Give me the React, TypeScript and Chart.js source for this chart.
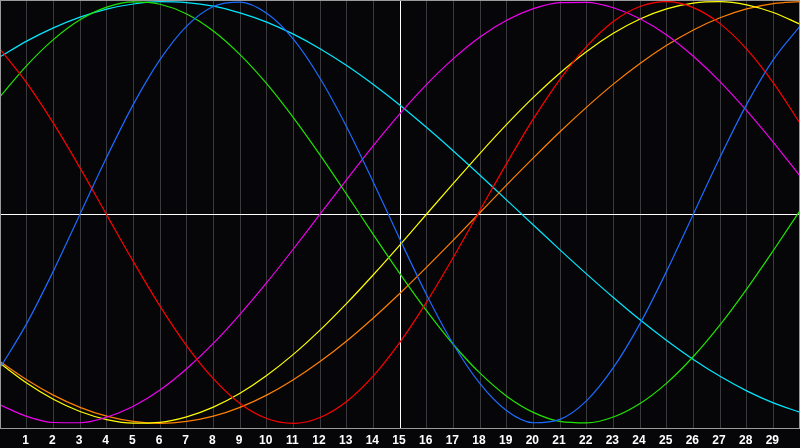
import { useEffect, useRef } from 'react';
import { Chart, registerables } from 'chart.js';

Chart.register(...registerables);

// day positions along the x axis (0 = left edge, 30 = right edge)
const days = [0, 1, 2, 3, 4, 5, 6, 7, 8, 9, 10, 11, 12, 13, 14, 15, 16, 17, 18, 19, 20, 21, 22, 23, 24, 25, 26, 27, 28, 29, 30];
const tickLabels = ['1', '2', '3', '4', '5', '6', '7', '8', '9', '10', '11', '12', '13', '14', '15', '16', '17', '18', '19', '20', '21', '22', '23', '24', '25', '26', '27', '28', '29'];

// cycle values in percent
const blue = [-73.7, -52.7, -27.8, -0.8, 26.2, 51.3, 72.5, 88.4, 97.7, 99.8, 94.5, 82.2, 63.7, 40.6, 14.4, -12.8, -39.1, -62.5, -81.2, -94.0, -99.7, -98.1, -89.2, -73.6, -52.7, -27.8, -0.8, 26.2, 51.3, 72.5, 88.4];
const red = [77.5, 61.5, 42.4, 21.2, -1.1, -23.3, -44.4, -63.2, -78.8, -90.6, -97.7, -100.0, -97.2, -89.6, -77.5, -61.5, -42.4, -21.2, 1.1, 23.3, 44.4, 63.2, 78.8, 90.6, 97.7, 100.0, 97.2, 89.6, 77.5, 61.5, 42.4];
const green = [54.9, 69.7, 82.0, 91.4, 97.4, 99.9, 98.8, 94.2, 86.1, 74.9, 61.1, 45.0, 27.3, 8.6, -10.5, -29.1, -46.7, -62.6, -76.2, -87.1, -94.8, -99.1, -99.8, -97.0, -90.6, -80.9, -68.3, -53.3, -36.3, -18.0, 0.9];
const magenta = [-91.2, -96.7, -99.6, -99.7, -97.1, -91.9, -84.2, -74.1, -62.1, -48.3, -33.3, -17.3, -0.8, 15.6, 31.7, 46.9, 60.8, 73.0, 83.3, 91.2, 96.7, 99.6, 99.7, 97.1, 91.9, 84.2, 74.1, 62.1, 48.3, 33.3, 17.3];
const yellow = [-71.5, -80.9, -88.6, -94.4, -98.2, -99.9, -99.5, -96.9, -92.3, -85.7, -77.3, -67.3, -55.8, -43.1, -29.5, -15.3, -0.7, 13.8, 28.1, 41.8, 54.6, 66.2, 76.4, 85.0, 91.8, 96.6, 99.3, 100.0, 98.5, 94.9, 89.3];
const orange = [-70.7, -79.3, -86.6, -92.4, -96.6, -99.1, -100.0, -99.1, -96.6, -92.4, -86.6, -79.3, -70.7, -60.9, -50.0, -38.3, -25.9, -13.1, 0.0, 13.1, 25.9, 38.3, 50.0, 60.9, 70.7, 79.3, 86.6, 92.4, 96.6, 99.1, 100.0];
const cyan = [73.8, 81.3, 87.6, 92.7, 96.5, 98.9, 100.0, 99.6, 97.9, 94.7, 90.3, 84.6, 77.7, 69.7, 60.7, 50.9, 40.3, 29.2, 17.7, 5.9, -5.9, -17.7, -29.2, -40.3, -50.9, -60.7, -69.7, -77.7, -84.6, -90.3, -94.7];

const series = [
  { name: 'blue', values: blue, color: '#1c6cff' },
  { name: 'red', values: red, color: '#ff0000' },
  { name: 'green', values: green, color: '#20e400' },
  { name: 'magenta', values: magenta, color: '#f000f0' },
  { name: 'yellow', values: yellow, color: '#ffff00' },
  { name: 'orange', values: orange, color: '#ff8000' },
  { name: 'cyan', values: cyan, color: '#00e8ff' },
];

const framePlugin = {
  id: 'frame',
  beforeDraw(chart: Chart) {
    const { ctx, width, height } = chart;
    ctx.save();
    ctx.fillStyle = '#060609';
    ctx.fillRect(0, 0, width, height);
    ctx.restore();
  },
  beforeDatasetsDraw(chart: Chart) {
    const { ctx, chartArea } = chart;
    const mid = Math.round((chartArea.top + chartArea.bottom) / 2) + 0.5;
    ctx.save();
    ctx.strokeStyle = '#ffffff';
    ctx.lineWidth = 1;
    ctx.beginPath();
    ctx.moveTo(chartArea.left, mid);
    ctx.lineTo(chartArea.right, mid);
    ctx.stroke();
    ctx.restore();
  },
  afterDraw(chart: Chart) {
    const { ctx, chartArea } = chart;
    ctx.save();
    ctx.strokeStyle = '#9a9a9a';
    ctx.lineWidth = 1;
    ctx.strokeRect(chartArea.left + 0.5, chartArea.top + 0.5, chartArea.right - chartArea.left - 1, chartArea.bottom - chartArea.top);
    ctx.restore();
  },
};

export default function App() {
  const chartRef = useRef<HTMLCanvasElement>(null);
  const chartInstance = useRef<Chart | null>(null);

  useEffect(() => {
    document.body.style.margin = '0';
    document.body.style.background = '#060609';
    if (!chartRef.current) return;
    if (chartInstance.current) chartInstance.current.destroy();
    const ctx = chartRef.current.getContext('2d');
    if (!ctx) return;

    chartInstance.current = new Chart(ctx, {
      type: 'line',
      data: {
        datasets: series.map((s) => ({
          label: s.name,
          data: days.map((d, i) => ({ x: d, y: s.values[i] })),
          borderColor: s.color,
          backgroundColor: s.color,
          borderWidth: 1.2,
          pointRadius: 0,
          cubicInterpolationMode: 'monotone' as const,
          fill: false,
        })),
      },
      options: {
        responsive: true,
        maintainAspectRatio: false,
        animation: false,
        layout: { padding: 0 },
        plugins: {
          legend: { display: false },
          tooltip: { enabled: false },
        },
        scales: {
          x: {
            type: 'linear',
            min: 0,
            max: 30,
            border: { display: false },
            afterFit: (scale: any) => {
              scale.height = 20;
              scale.paddingLeft = 0;
              scale.paddingRight = 0;
            },
            grid: {
              drawTicks: false,
              lineWidth: 1,
              color: (c: any) => {
                const v = c.tick ? c.tick.value : -1;
                if (v === 15) return '#ffffff';
                if (v <= 0 || v >= 30) return 'rgba(0,0,0,0)';
                return '#3a3a3e';
              },
            },
            ticks: {
              stepSize: 1,
              autoSkip: false,
              maxRotation: 0,
              padding: 5,
              labelOffset: -1,
              color: '#ffffff',
              font: { family: 'Liberation Sans', size: 12, weight: 'bold' },
              callback: (value: any) => {
                const v = Number(value);
                return v >= 1 && v <= 29 ? tickLabels[v - 1] : '';
              },
            },
          },
          y: {
            display: false,
            min: -102.2,
            max: 100.8,
          },
        },
      },
      plugins: [framePlugin],
    });

    return () => {
      if (chartInstance.current) {
        chartInstance.current.destroy();
        chartInstance.current = null;
      }
    };
  }, []);

  return (
    <div style={{ width: 800, height: 448, position: 'relative' }}>
      <canvas ref={chartRef}></canvas>
    </div>
  );
}
